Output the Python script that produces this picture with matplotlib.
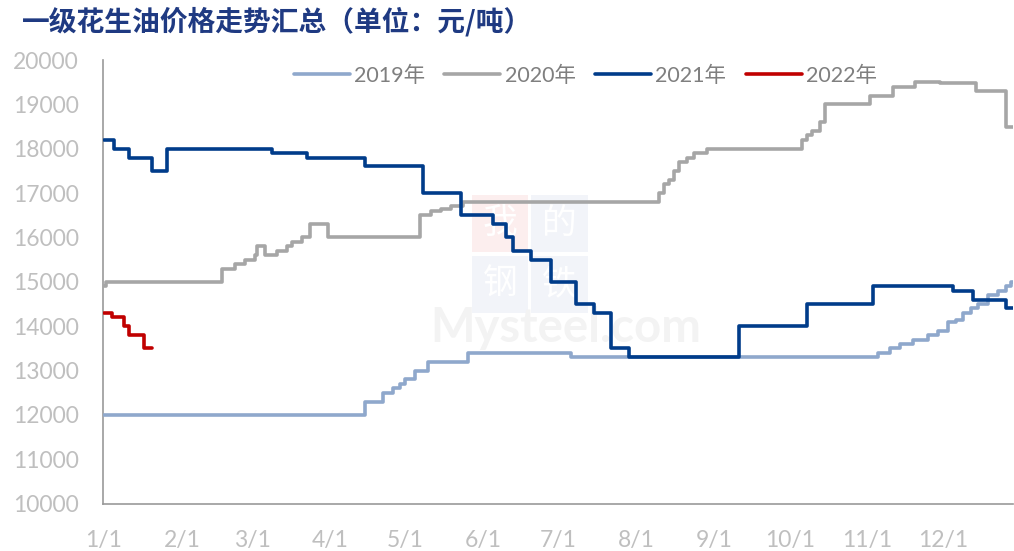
import matplotlib
matplotlib.use("Agg")
import matplotlib.pyplot as plt
from matplotlib.patches import Rectangle

# day-of-year where each price level starts, and the level (元/吨)
days_2019 = [0, 104, 111, 115, 118, 120, 124, 129, 145, 186, 308, 313, 317, 322,
             328, 332, 336, 339, 342, 345, 348, 352, 356, 359, 361, 362]
vals_2019 = [12000, 12300, 12500, 12600, 12700, 12800, 13000, 13200, 13400, 13300,
             13400, 13500, 13600, 13700, 13800, 13900, 14100, 14150, 14300, 14400,
             14500, 14700, 14800, 14900, 15000, 15000]

days_2020 = [0, 1, 47, 52, 56, 60, 61, 64, 69, 73, 75, 79, 82, 89, 126, 130, 134,
             138, 143, 219, 221, 223, 225, 227, 229, 232, 235, 240, 276, 278, 280,
             282, 285, 287, 305, 314, 323, 333, 347, 359, 362]
vals_2020 = [14900, 15000, 15300, 15400, 15500, 15600, 15800, 15600, 15700, 15800,
             15900, 16000, 16300, 16000, 16500, 16600, 16650, 16700, 16800, 16800,
             17000, 17200, 17300, 17500, 17700, 17800, 17900, 18000, 18000, 18200,
             18300, 18400, 18600, 19000, 19200, 19400, 19500, 19480, 19300, 18500,
             18500]

days_2021 = [0, 4, 10, 19, 25, 67, 81, 104, 127, 142, 155, 160, 163, 170, 178, 188,
             195, 202, 209, 253, 280, 306, 338, 346, 359, 362]
vals_2021 = [18200, 18000, 17800, 17500, 18000, 17900, 17800, 17600, 17000, 16500,
             16300, 16000, 15700, 15500, 15000, 14500, 14300, 13500, 13300, 14000,
             14500, 14900, 14800, 14600, 14400, 14400]

days_2022 = [0, 3, 8, 10, 16, 19]
vals_2022 = [14300, 14200, 14000, 13800, 13500, 13500]

month_starts = [0, 31, 59, 90, 120, 151, 181, 212, 243, 273, 304, 334]
month_labels = ["1/1", "2/1", "3/1", "4/1", "5/1", "6/1", "7/1", "8/1", "9/1",
                "10/1", "11/1", "12/1"]

series = [
    ("2019年", days_2019, vals_2019, "#8FA8CC"),
    ("2020年", days_2020, vals_2020, "#A6A6A6"),
    ("2021年", days_2021, vals_2021, "#003C8A"),
    ("2022年", days_2022, vals_2022, "#C00000"),
]

plt.rcParams["font.family"] = ["Lato", "Noto Sans CJK SC", "DejaVu Sans"]

fig = plt.figure(figsize=(10.14, 5.51), dpi=100)
ax = fig.add_axes([0.1013, 0.0858, 0.898, 0.8053])
ax.set_facecolor("none")

# faint watermark behind the plot
wm = [("我", 0.4652, 0.5432, "#FCEEEE"), ("的", 0.5237, 0.5432, "#F2F4F9"),
      ("钢", 0.4652, 0.4325, "#F2F4F9"), ("铁", 0.5237, 0.4325, "#F2F4F9")]
for ch, bx, by, bc in wm:
    fig.patches.append(Rectangle((bx, by), 0.0558, 0.1029, transform=fig.transFigure,
                                 facecolor=bc, edgecolor="none", zorder=-2))
    fig.text(bx + 0.0279, by + 0.0515, ch, ha="center", va="center", fontsize=25,
             color="white", zorder=-1, family=["Noto Sans CJK SC"])
fig.text(0.558, 0.405, "Mysteel.com", ha="center", va="center", fontsize=34,
         fontweight="bold", color="#F3F3F3", zorder=-1)

for name, d, v, c in series:
    ax.plot(d, v, drawstyle="steps-post", color=c, lw=2.6, label=name,
            solid_capstyle="round", zorder=3)

ax.set_xlim(-0.5, 362)
ax.set_ylim(10000, 20000)
ax.set_yticks(range(10000, 20001, 1000))
ax.set_xticks(month_starts)
ax.set_xticklabels(month_labels)

for s in ["top", "right"]:
    ax.spines[s].set_visible(False)
for s in ["left", "bottom"]:
    ax.spines[s].set_color("#999999")
    ax.spines[s].set_linewidth(1.2)

ax.tick_params(axis="both", length=0, labelsize=16.5, colors="#BFBFBF")
ax.tick_params(axis="y", pad=17)
ax.tick_params(axis="x", pad=19)

leg = ax.legend(loc="center", bbox_to_anchor=(0.53, 0.965), ncol=4,
                frameon=False, fontsize=15.5, handlelength=2.6,
                columnspacing=0.9, handletextpad=0.2)
for t in leg.get_texts():
    t.set_color("#7F7F7F")

fig.text(0.022, 0.96, "一级花生油价格走势汇总（单位：元/吨）", fontsize=20,
         fontweight="bold", color="#1F3A82", va="center", ha="left",
         family=["Noto Sans CJK SC"])

fig.savefig("out.png", dpi=100)
